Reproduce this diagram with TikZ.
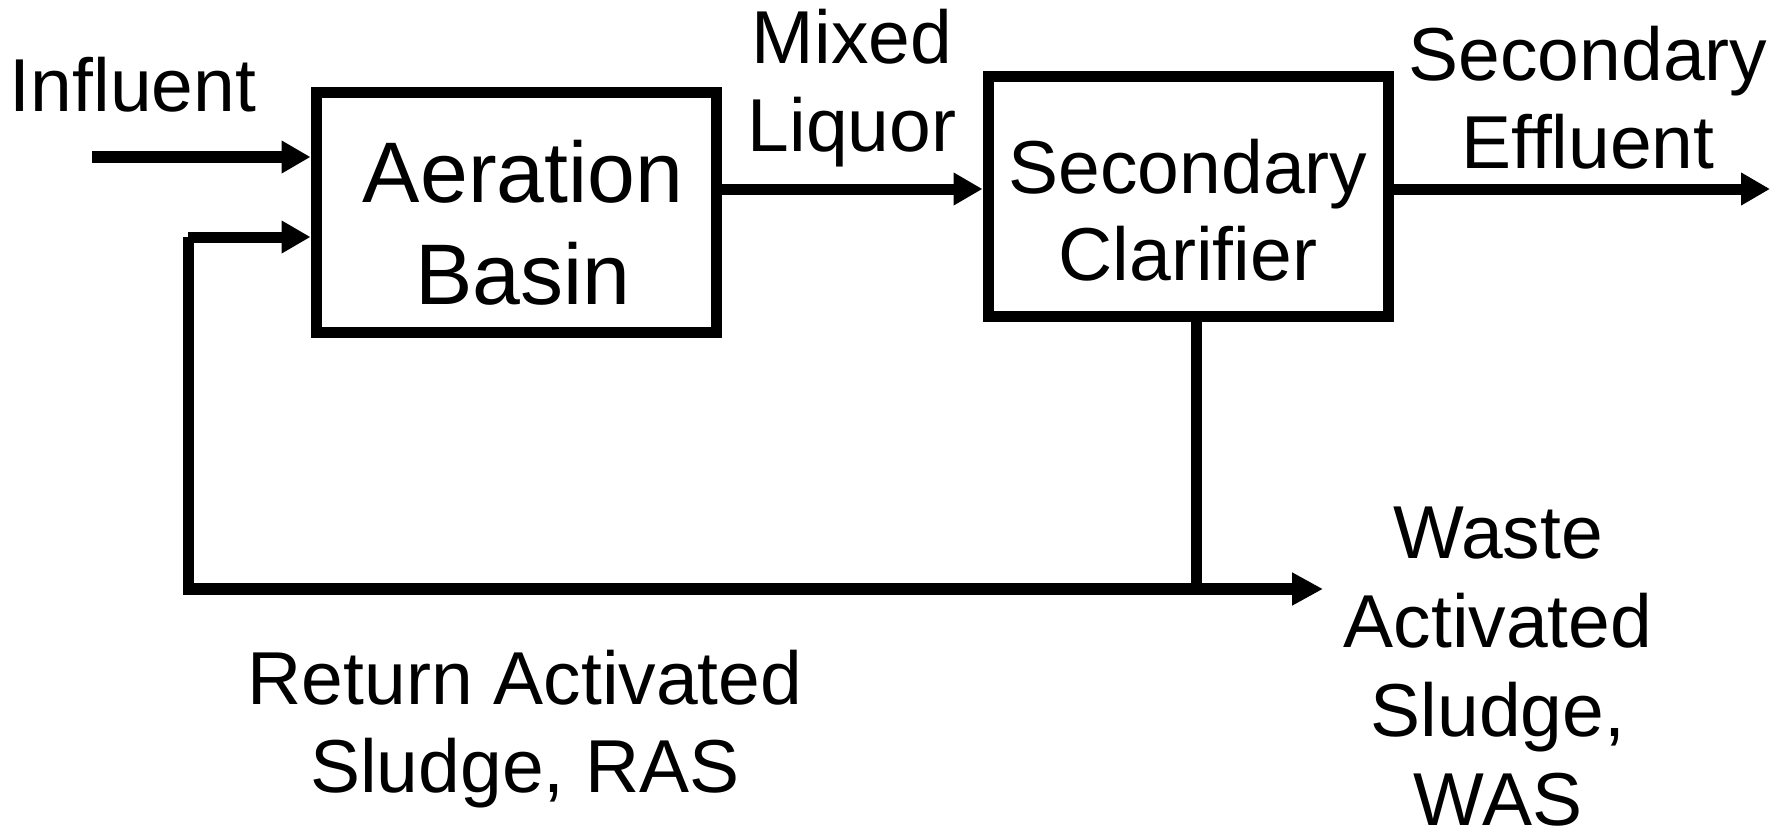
\documentclass[tikz,border=0pt]{standalone}
\usepackage{fontspec}
\setmainfont{Liberation Sans}
\usetikzlibrary{arrows.meta}
\newcommand{\stack}[1]{\begin{tabular}[t]{@{}c@{}}#1\end{tabular}}
\begin{document}
\begin{tikzpicture}[x=1pt,y=-1pt,
  box/.style={draw, line width=11pt, inner sep=0pt, minimum width=400pt, minimum height=239pt},
  lbl/.style={font=\fontsize{75}{88}\selectfont, inner sep=0pt, anchor=base},
  biglbl/.style={font=\fontsize{86}{102}\selectfont, inner sep=0pt, anchor=base},
  pipe/.style={line width=11pt},
  flow/.style={line width=11pt, -{Triangle[length=29pt,width=31pt]}}]
\useasboundingbox (0,0) rectangle (1780,832);
% boxes
\node[box] (ab) at (516,212.5) {};
\node[box] (sc) at (1188,196.5) {};
% box texts
\node[biglbl] (abt) at (523,202) {\stack{Aeration\\Basin}};
\node[lbl] (sct) at (1188,193) {\stack{Secondary\\Clarifier}};
% outer labels
\node[lbl] (inf) at (133,112) {Influent};
\node[lbl] (ml) at (852,64) {\stack{Mixed\\Liquor}};
\node[lbl] (se) at (1588,81) {\stack{Secondary\\Effluent}};
\node[lbl] (ras) at (525,704) {\stack{Return Activated\\Sludge, RAS}};
\node[lbl, font=\fontsize{75}{89}\selectfont] (was) at (1498,558) {\stack{Waste\\Activated\\Sludge,\\WAS}};
% coordinates
\coordinate (inS) at (92,157);
\coordinate (rasC) at (188,237);
\coordinate (rasB) at (188,595);
\coordinate (topY) at (0,189);
\coordinate (effE) at (1770,189);
\coordinate (botL) at (188,589);
\coordinate (wasE) at (1323,589);
\coordinate (wd) at (1196,589);
% connectors
\draw[flow] (inS) -- (inS -| ab.west);
\draw[pipe] (rasB) -- (rasC);
\draw[flow] (rasC) -- (rasC -| ab.west);
\draw[flow] (ab.east |- topY) -- (sc.west |- topY);
\draw[flow] (sc.east |- topY) -- (effE);
\draw[pipe] (wd |- sc.south) -- (wd);
\draw[line width=12pt, -{Triangle[length=31pt,width=31pt]}] (botL) -- (wasE);
\end{tikzpicture}
\end{document}
